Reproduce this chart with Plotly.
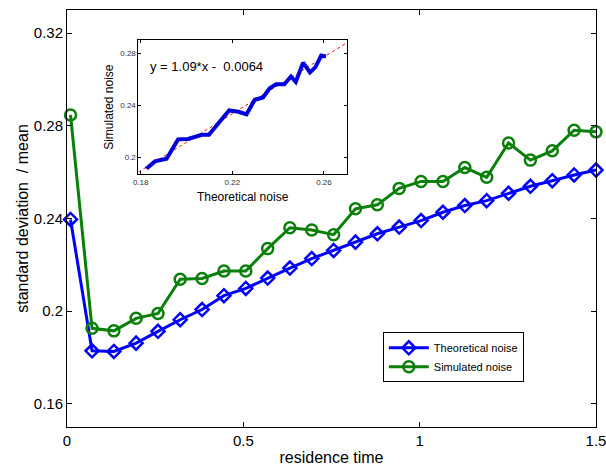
import plotly.graph_objects as go

residence_time = [0.01, 0.071, 0.133, 0.196, 0.258, 0.321, 0.383, 0.445, 0.507, 0.569,
                  0.632, 0.694, 0.756, 0.818, 0.880, 0.942, 1.004, 1.066, 1.128, 1.190,
                  1.252, 1.314, 1.376, 1.438, 1.500]
theoretical_noise = [0.2396, 0.1829, 0.1826, 0.1862, 0.1913, 0.1963, 0.2007, 0.2067, 0.2098, 0.2143,
                     0.2186, 0.2227, 0.2262, 0.2298, 0.2334, 0.2363, 0.2391, 0.2427, 0.2456, 0.2477,
                     0.2509, 0.2539, 0.2563, 0.2588, 0.2609]
simulated_noise = [0.2847, 0.1926, 0.1915, 0.1969, 0.1990, 0.2138, 0.2141, 0.2173, 0.2173, 0.2270,
                   0.2360, 0.2350, 0.2330, 0.2442, 0.2459, 0.2530, 0.2560, 0.2560, 0.2620, 0.2578,
                   0.2726, 0.2652, 0.2692, 0.2781, 0.2774]
fit_slope = 1.09
fit_intercept = -0.0064
fit_x = [0.179, 0.27]
fit_y = [fit_slope * v + fit_intercept for v in fit_x]

main_xticks = [0, 0.5, 1, 1.5]
main_xticklabels = ["0", "0.5", "1", "1.5"]
main_yticks = [0.16, 0.2, 0.24, 0.28, 0.32]
main_yticklabels = ["0.16", "0.2", "0.24", "0.28", "0.32"]
inset_xticks = [0.18, 0.22, 0.26]
inset_yticks = [0.2, 0.24, 0.28]

FONT = "Liberation Sans, Arial, Helvetica, sans-serif"
BLUE = "#0000ff"
GREEN = "#0a800a"

fig = go.Figure()
fig.add_trace(go.Scatter(
    x=residence_time, y=theoretical_noise, name="Theoretical noise",
    mode="lines+markers", cliponaxis=False,
    line=dict(color=BLUE, width=3),
    marker=dict(symbol="diamond-open", size=10, color=BLUE, line=dict(width=2.5, color=BLUE)),
    xaxis="x", yaxis="y"))
fig.add_trace(go.Scatter(
    x=residence_time, y=simulated_noise, name="Simulated noise",
    mode="lines+markers", cliponaxis=False,
    line=dict(color=GREEN, width=3),
    marker=dict(symbol="circle-open", size=11, color=GREEN, line=dict(width=2.5, color=GREEN)),
    xaxis="x", yaxis="y"))

# inset
fig.add_trace(go.Scatter(
    x=fit_x, y=fit_y, mode="lines", showlegend=False,
    line=dict(color="red", width=1, dash="dot"),
    xaxis="x2", yaxis="y2"))
fig.add_trace(go.Scatter(
    x=theoretical_noise[1:], y=simulated_noise[1:], mode="lines", showlegend=False,
    line=dict(color="#0000dd", width=4),
    xaxis="x2", yaxis="y2"))

axis_common = dict(showline=True, linecolor="black", linewidth=1, mirror="ticks",
                   ticks="inside", tickcolor="black", showgrid=False, zeroline=False,
                   automargin=False)

fig.update_layout(
    width=606, height=466,
    margin=dict(l=67, r=10, t=10, b=39),
    paper_bgcolor="white", plot_bgcolor="white",
    font=dict(family=FONT, color="black"),
    xaxis=dict(range=[0, 1.5], tickvals=main_xticks, ticktext=main_xticklabels,
               ticklen=5, tickfont=dict(size=15), ticklabeloverflow="allow",
               title=dict(text="residence time", font=dict(size=16), standoff=6),
               **axis_common),
    yaxis=dict(range=[0.15, 0.33], tickvals=main_yticks, ticktext=main_yticklabels,
               ticklen=5, tickfont=dict(size=15),
               title=dict(text="standard deviation  / mean", font=dict(size=16), standoff=1),
               **axis_common),
    xaxis2=dict(domain=[0.135, 0.529], anchor="y2", range=[0.179, 0.27],
                tickvals=inset_xticks, ticktext=["0.18", "0.22", "0.26"],
                ticklen=3, tickfont=dict(size=8, color="#333333"),
                title=dict(text="Theoretical noise", font=dict(size=12), standoff=6),
                **axis_common),
    yaxis2=dict(domain=[0.606, 0.928], anchor="x2", range=[0.187, 0.29],
                tickvals=inset_yticks, ticktext=["0.2", "0.24", "0.28"],
                ticklen=3, tickfont=dict(size=8, color="#333333"),
                title=dict(text="Simulated noise", font=dict(size=12), standoff=4),
                **axis_common),
    legend=dict(x=0.597, y=0.227, xanchor="left", yanchor="top",
                bgcolor="white", bordercolor="black", borderwidth=1,
                font=dict(size=11), tracegroupgap=0, itemwidth=40),
    annotations=[dict(x=0.1832, y=0.2697, xref="x2", yref="y2", xanchor="left", yanchor="middle",
                      text="y = 1.09*x -  0.0064", showarrow=False, font=dict(size=13))],
)

fig.write_html("out.html",
               config={"displayModeBar": False},
               post_script="document.body.style.margin='0';document.body.style.overflow='hidden';")
